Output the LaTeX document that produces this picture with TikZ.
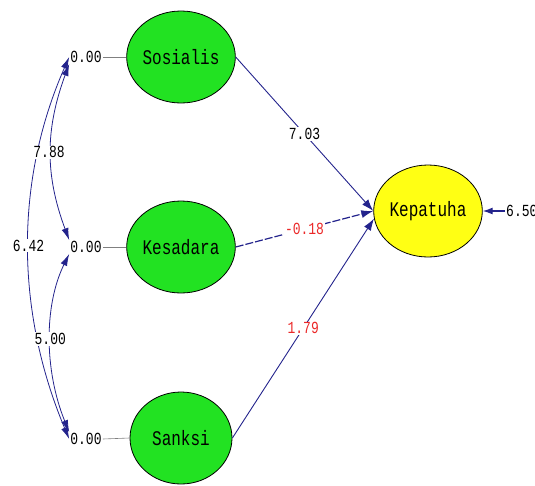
\documentclass[tikz,border=0pt]{standalone}
\usepackage{fontspec}
\setmainfont{Liberation Mono}
\usetikzlibrary{shapes.geometric,arrows.meta}
\definecolor{lgreen}{RGB}{34,226,34}
\definecolor{lyellow}{RGB}{255,255,20}
\definecolor{navy}{RGB}{35,35,140}
\definecolor{lred}{RGB}{235,40,40}
\tikzset{
  latent/.style={ellipse,draw=black,line width=0.8pt,minimum width=102pt,minimum height=92pt,inner sep=0pt,
    font=\fontsize{16}{16}\selectfont},
  var/.style={inner sep=1pt,font=\fontsize{13}{13}\selectfont},
  coef/.style={fill=white,inner sep=1pt,font=\fontsize{13}{13}\selectfont},
  path/.style={draw=navy,line width=0.9pt,-{Latex[length=12pt,width=8pt]}},
  cov/.style={draw=navy,line width=0.8pt,{Latex[length=12pt,width=7pt]}-{Latex[length=12pt,width=7pt]}},
  tie/.style={draw=gray,line width=0.6pt}
}
\newcommand{\tall}[1]{\scalebox{1}[1.3]{#1}}
\begin{document}
\begin{tikzpicture}[x=1pt,y=-1pt]
\useasboundingbox (0,0) rectangle (535,485);
% latent variables
\node[latent,fill=lgreen] (S) at (181,57) {\tall{Sosialis}};
\node[latent,fill=lgreen] (K) at (181,247) {\tall{Kesadara}};
\node[latent,fill=lgreen] (N) at (181,438) {\tall{Sanksi}};
\node[latent,fill=lyellow] (Y) at (428,211) {\tall{Kepatuha}};
% variances
\node[var] (v1) at (86,57) {\tall{0.00}};
\node[var] (v2) at (86,247) {\tall{0.00}};
\node[var] (v3) at (86,439) {\tall{0.00}};
\draw[tie] (v1.east) -- (S.west);
\draw[tie] (v2.east) -- (K.west);
\draw[tie] (v3.east) -- (N.west);
% error
\node[var,anchor=west] (e) at (505,211) {\tall{6.50}};
\draw[path,line width=1.2pt,-{Latex[length=10pt,width=7pt]}] (e.west) -- (Y.east);
% covariances
\draw[cov] (v1.west) .. controls (15,180) and (15,310) .. node[coef,pos=0.5] {\tall{6.42}} (v3.west);
\draw[cov] (v1.south west) .. controls (45,130) and (45,175) .. node[coef,pos=0.5,xshift=-2pt] {\tall{7.88}} (v2.north west);
\draw[cov] (v2.south west) .. controls (44,305) and (44,370) .. node[coef,pos=0.5] {\tall{5.00}} (v3.north west);
% paths
\draw[path] (S.east) -- node[coef,pos=0.5] {\tall{7.03}} (Y.west);
\draw[path,dashed,dash pattern=on 8pt off 2pt,line width=1.2pt] (K.east) -- node[coef,pos=0.5,text=lred] {\tall{-0.18}} (Y.west);
\draw[path] (N.east) -- node[coef,pos=0.5,text=lred] {\tall{1.79}} (Y.188);
\end{tikzpicture}
\end{document}
